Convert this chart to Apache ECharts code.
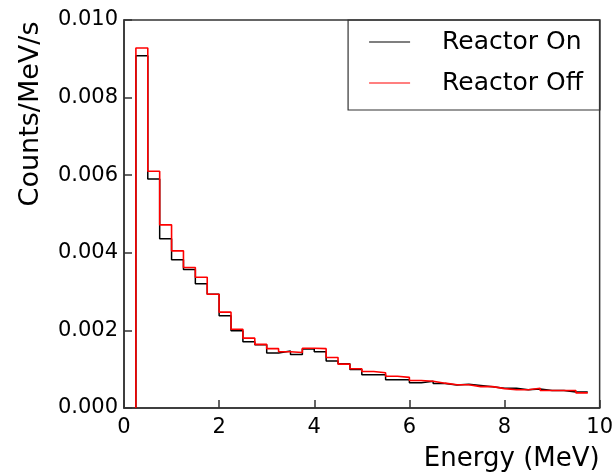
<!DOCTYPE html>
<html>
<head>
<meta charset="utf-8">
<script src="https://cdn.jsdelivr.net/npm/echarts@6/dist/echarts.min.js"></script>
<style>
html,body{margin:0;padding:0;background:#fff;}
#chart{width:616px;height:472px;}
</style>
</head>
<body>
<div id="chart"></div>
<script>
// Bin edges (MeV)
const binEdges = [0.25, 0.5, 0.75, 1.0, 1.25, 1.5, 1.75, 2.0, 2.25, 2.5, 2.75, 3.0, 3.25, 3.5, 3.75, 4.0,
  4.25, 4.5, 4.75, 5.0, 5.25, 5.5, 5.75, 6.0, 6.25, 6.5, 6.75, 7.0, 7.25, 7.5, 7.75, 8.0,
  8.25, 8.5, 8.75, 9.0, 9.25, 9.5, 9.75];
// Counts/MeV/s per bin
const reactorOn = [0.00908, 0.00590, 0.00436, 0.00382, 0.00357, 0.00320, 0.00293, 0.00238, 0.00199, 0.00171,
  0.00163, 0.00142, 0.00147, 0.00138, 0.00152, 0.00145, 0.00121, 0.00114, 0.00099, 0.00086,
  0.00086, 0.00073, 0.00073, 0.00065, 0.00069, 0.00063, 0.00059, 0.00061, 0.00058, 0.00055,
  0.00051, 0.00051, 0.00047, 0.00049, 0.00045, 0.00045, 0.00041, 0.00041];
const reactorOff = [0.00928, 0.00610, 0.00472, 0.00405, 0.00362, 0.00337, 0.00293, 0.00247, 0.00203, 0.00180,
  0.00164, 0.00153, 0.00145, 0.00143, 0.00154, 0.00153, 0.00130, 0.00113, 0.00101, 0.00094,
  0.00091, 0.00082, 0.00079, 0.00071, 0.00069, 0.00064, 0.00060, 0.00060, 0.00055, 0.00055,
  0.00050, 0.00047, 0.00047, 0.00051, 0.00045, 0.00045, 0.00045, 0.00039];
const seriesNames = ['Reactor On', 'Reactor Off'];
const xTicks = [0, 2, 4, 6, 8, 10];
const yTicks = [0, 0.002, 0.004, 0.006, 0.008, 0.010];

function stepData(vals) {
  const d = [[binEdges[0], 0]];
  vals.forEach((v, i) => d.push([binEdges[i + 1], v]));
  return d;
}

const FONT = 'DejaVu Sans';
const chart = echarts.init(document.getElementById('chart'), null, {renderer: 'canvas'});
chart.setOption({
  animation: false,
  backgroundColor: '#fff',
  textStyle: {fontFamily: FONT, color: '#000'},
  grid: {left: 124, right: 16, top: 20, bottom: 59, show: true, borderColor: '#333', borderWidth: 1.5, backgroundColor: 'transparent'},
  legend: {
    right: 16, top: 20, orient: 'vertical', align: 'left',
    icon: 'rect', itemWidth: 41, itemHeight: 1.2, itemGap: 11,
    padding: [7, 17, 12, 21],
    borderColor: '#333', borderWidth: 1.2,
    textStyle: {fontFamily: FONT, fontSize: 25, lineHeight: 30, color: '#000', padding: [0, 0, 0, 27]},
    data: seriesNames
  },
  xAxis: {
    type: 'value', min: xTicks[0], max: xTicks[xTicks.length - 1], interval: 2,
    name: 'Energy (MeV)', nameLocation: 'end', nameGap: 0,
    nameTextStyle: {fontFamily: FONT, fontSize: 26, color: '#000', align: 'right', verticalAlign: 'top', padding: [38, 0, 0, 0]},
    axisLine: {show: true, lineStyle: {color: '#333', width: 1.5}},
    axisTick: {show: true, inside: true, length: 8, lineStyle: {color: '#333', width: 1.5}},
    axisLabel: {fontFamily: FONT, fontSize: 21, color: '#000', margin: 9},
    splitLine: {show: false}
  },
  yAxis: {
    type: 'value', min: yTicks[0], max: yTicks[yTicks.length - 1], interval: 0.002,
    name: 'Counts/MeV/s', nameLocation: 'middle', nameRotate: 90, nameGap: 80,
    nameTextStyle: {fontFamily: FONT, fontSize: 27, color: '#000', padding: [0, 0, 0, 200]},
    axisLine: {show: true, lineStyle: {color: '#333', width: 1.5}},
    axisTick: {show: true, inside: true, length: 8, lineStyle: {color: '#333', width: 1.5}},
    axisLabel: {fontFamily: FONT, fontSize: 21, color: '#000', margin: 6, formatter: v => v.toFixed(3)},
    splitLine: {show: false}
  },
  series: [
    {name: seriesNames[0], type: 'line', step: 'start', symbol: 'none', showSymbol: false,
     data: stepData(reactorOn), lineStyle: {color: '#000', width: 1.5}, itemStyle: {color: '#000'}},
    {name: seriesNames[1], type: 'line', step: 'start', symbol: 'none', showSymbol: false,
     data: stepData(reactorOff), lineStyle: {color: '#ff0000', width: 1.6}, itemStyle: {color: '#ff0000'}}
  ]
});
</script>
</body>
</html>
